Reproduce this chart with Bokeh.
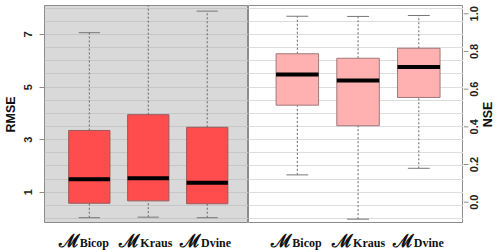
import math
import numpy as np
from bokeh.plotting import figure
from bokeh.models import Range1d, FixedTicker, SingleIntervalTicker, Grid
from bokeh.core.properties import value
from bokeh.layouts import row, column
from bokeh.embed import file_html
from bokeh.resources import INLINE

# ---- data ----
models = ["Bicop", "Kraus", "Dvine"]

rmse_lower = [0.03, 0.05, 0.03]
rmse_q1 = [0.58, 0.67, 0.56]
rmse_median = [1.49, 1.53, 1.36]
rmse_q3 = [3.35, 3.95, 3.47]
rmse_upper = [7.07, 8.60, 7.89]

nse_lower = [0.145, -0.090, 0.180]
nse_q1 = [0.515, 0.406, 0.556]
nse_median = [0.678, 0.646, 0.717]
nse_q3 = [0.788, 0.764, 0.817]
nse_upper = [0.987, 0.986, 0.991]

rmse_ticks = [1, 3, 5, 7]
nse_ticks = [0.0, 0.2, 0.4, 0.6, 0.8, 1.0]
nse_tick_labels = ["0.0", "0.2", "0.4", "0.6", "0.8", "1.0"]

# ---- style ----
FONT = "Liberation Sans"
BOX_W = 0.70
CAP_W = 0.36
pos = np.arange(1, len(models) + 1, dtype=float)

rmse_range = Range1d(-0.191, 8.104)
nse_range = Range1d(-0.113, 1.044)
x_left = Range1d(0.24, 3.70)
x_right = Range1d(0.196, 3.736)
FRAME_TOP = 5


def no_grids(p):
    for g in p.grid:
        g.visible = False


def draw_boxes(p, lo, q1, med, q3, hi, fill, edge):
    lo, q1, med, q3, hi = map(np.asarray, (lo, q1, med, q3, hi))
    p.segment(x0=pos, y0=q3, x1=pos, y1=hi, line_color="#666666",
              line_dash="2 2", line_width=1)
    p.segment(x0=pos, y0=lo, x1=pos, y1=q1, line_color="#666666",
              line_dash="2 2", line_width=1)
    p.segment(x0=pos - CAP_W / 2, y0=hi, x1=pos + CAP_W / 2, y1=hi,
              line_color="#777777", line_width=1)
    p.segment(x0=pos - CAP_W / 2, y0=lo, x1=pos + CAP_W / 2, y1=lo,
              line_color="#777777", line_width=1)
    p.vbar(x=pos, width=BOX_W, bottom=q1, top=q3, fill_color=fill,
           line_color=edge, line_width=1)
    p.segment(x0=pos - BOX_W / 2, y0=med, x1=pos + BOX_W / 2, y1=med,
              line_color="black", line_width=4)


def label_strip(x_range, width, left, right):
    s = figure(width=width, height=27, x_range=x_range, y_range=Range1d(0, 27),
               output_backend="svg", toolbar_location=None,
               x_axis_location=None, y_axis_location=None,
               min_border_left=left, min_border_right=right,
               min_border_top=0, min_border_bottom=0,
               outline_line_color=None, background_fill_color="white")
    no_grids(s)
    s.text(x=pos, y=[10] * len(models), text=["\u2133"] * len(models),
           x_offset=-5, text_align="right", text_baseline="alphabetic",
           text_font=value("DejaVu Serif"), text_font_style="bold",
           text_font_size="18px", text_color="#111111")
    s.text(x=pos, y=[8.0] * len(models), text=models,
           x_offset=-5, text_align="left", text_baseline="alphabetic",
           text_font=value("Liberation Serif"), text_font_style="bold",
           text_font_size="12px", text_color="#111111")
    return s


# ---- left panel: RMSE ----
p1 = figure(width=248, height=223, x_range=x_left, y_range=rmse_range,
            output_backend="svg", toolbar_location=None, x_axis_location=None,
            min_border_left=38, min_border_right=0, min_border_top=FRAME_TOP,
            min_border_bottom=0, background_fill_color="#d9d9d9",
            outline_line_color="#8c8c8c", outline_line_width=1)
p1.xgrid.visible = False
p1.ygrid.ticker = SingleIntervalTicker(interval=0.5)
p1.ygrid.grid_line_color = "#c6c6c6"
ax = p1.yaxis[0]
ax.ticker = FixedTicker(ticks=rmse_ticks)
ax.axis_label = "RMSE"
ax.axis_label_text_font = FONT
ax.axis_label_text_font_style = "bold"
ax.axis_label_text_font_size = "12.5px"
ax.axis_label_text_color = "#111111"
ax.axis_label_standoff = 4
ax.major_label_text_font = FONT
ax.major_label_text_font_style = "bold"
ax.major_label_text_font_size = "11px"
ax.major_label_text_color = "#222222"
ax.major_label_orientation = "vertical"
ax.major_label_standoff = 7
ax.major_tick_out = 5
ax.major_tick_in = 0
ax.minor_tick_line_color = None
ax.axis_line_color = None
ax.major_tick_line_color = "#8c8c8c"
draw_boxes(p1, rmse_lower, rmse_q1, rmse_median, rmse_q3, rmse_upper,
           "#ff4c4c", "#9a5a5a")

# ---- right panel: NSE ----
p2 = figure(width=215, height=223, x_range=x_right, y_range=nse_range,
            output_backend="svg", toolbar_location=None, x_axis_location=None,
            y_axis_location=None,
            min_border_left=0, min_border_right=0, min_border_top=FRAME_TOP,
            min_border_bottom=0, background_fill_color="white",
            outline_line_color="#8c8c8c", outline_line_width=1)
no_grids(p2)
p2.extra_y_ranges = {"rmse": rmse_range}
p2.add_layout(Grid(dimension=1, y_range_name="rmse",
                   ticker=SingleIntervalTicker(interval=0.5),
                   grid_line_color="#dddddd"))
draw_boxes(p2, nse_lower, nse_q1, nse_median, nse_q3, nse_upper,
           "#ffb0b0", "#a07a7a")

# ---- right-hand NSE axis: ticks, labels and title (read bottom-to-top) ----
p3 = figure(width=37, height=223, x_range=Range1d(0, 37), y_range=nse_range,
            output_backend="svg", toolbar_location=None,
            x_axis_location=None, y_axis_location=None,
            min_border_left=0, min_border_right=0, min_border_top=FRAME_TOP,
            min_border_bottom=0, outline_line_color=None,
            background_fill_color="white")
no_grids(p3)
p3.segment(x0=[0] * len(nse_ticks), y0=nse_ticks, x1=[5] * len(nse_ticks),
           y1=nse_ticks, line_color="#8c8c8c", line_width=1)
p3.text(x=[10.5] * len(nse_ticks), y=nse_ticks, text=nse_tick_labels,
        angle=math.pi / 2, text_align="center", text_baseline="middle",
        text_font=value(FONT), text_font_style="bold",
        text_font_size="11px", text_color="#222222")
p3.text(x=[24], y=[(nse_range.start + nse_range.end) / 2], text=["NSE"],
        angle=math.pi / 2, text_align="center", text_baseline="middle",
        text_font=value(FONT), text_font_style="bold",
        text_font_size="12.5px", text_color="#111111")

l1 = label_strip(x_left, 248, 38, 0)
l2 = label_strip(x_right, 215, 0, 0)

layout = column(row(p1, p2, p3), row(l1, l2))
open("out.html", "w").write(file_html(layout, INLINE))
